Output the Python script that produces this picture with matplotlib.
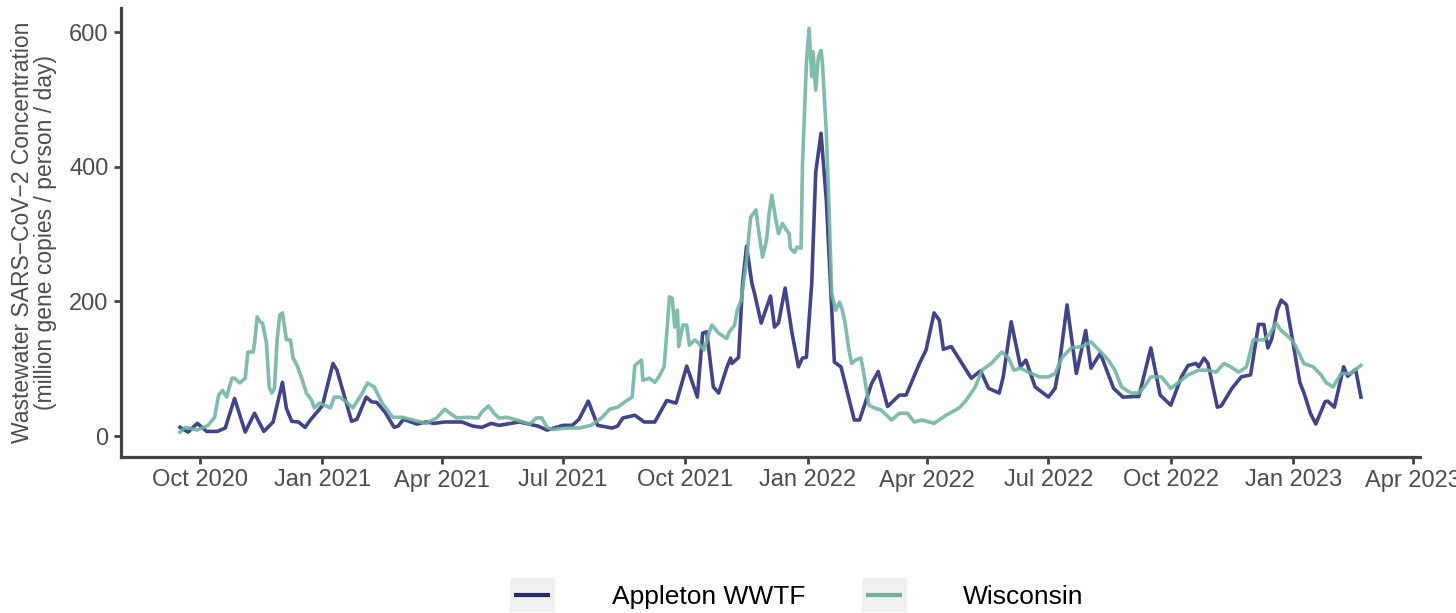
import numpy as np
import pandas as pd
import matplotlib
matplotlib.use("Agg")
import matplotlib.pyplot as plt
import matplotlib.dates as mdates
from matplotlib.legend_handler import HandlerBase
from matplotlib.patches import Rectangle
from matplotlib.lines import Line2D

plt.rcParams['font.family'] = ['Liberation Sans', 'DejaVu Sans']

# ---------------- data (days counted from the reference date) ----------------
reference_date = "2020-10-01"

appleton_day = [-15, -9, -2, 5, 13, 19, 26, 34, 41, 48, 55, 62, 65, 69, 74, 79, 83, 92, 100, 103,
                114, 118, 125, 129, 133, 139, 146, 149, 153, 163, 170, 176, 184, 197, 205, 212, 219, 225,
                240, 254, 261, 273, 280, 285, 292, 299, 310, 314, 318, 327, 334, 342, 351, 358, 366, 374,
                378, 381, 386, 390, 396, 399, 400, 405, 408, 411, 415, 417, 422, 429, 432, 435, 440, 445,
                450, 453, 456, 460, 463, 467, 471, 477, 482, 492, 496, 505, 510, 517, 526, 531, 541, 546,
                552, 556, 559, 565, 580, 587, 593, 601, 604, 610, 617, 621, 628, 638, 643, 646, 652, 659,
                666, 670, 677, 687, 694, 706, 715, 722, 730, 738, 743, 749, 751, 755, 758, 765, 768, 776,
                783, 790, 796, 800, 803, 806, 810, 813, 817, 827, 830, 835, 839, 846, 848, 853, 860, 863,
                869, 873]
appleton_val = [13, 6, 19, 7, 7, 12, 56, 6, 34, 7, 21, 80, 41, 22, 21, 13, 24, 45, 108, 98,
                22, 25, 58, 51, 50, 36, 13, 15, 25, 18, 21, 19, 21, 21, 15, 13, 19, 16,
                21, 15, 9, 16, 16, 25, 52, 16, 12, 15, 27, 31, 21, 21, 53, 49, 104, 58,
                153, 155, 73, 64, 101, 116, 108, 117, 227, 282, 227, 212, 168, 208, 162, 168, 220, 155,
                103, 116, 117, 227, 392, 450, 350, 110, 103, 24, 24, 78, 96, 44, 61, 61, 108, 128,
                183, 172, 129, 133, 86, 97, 71, 64, 88, 170, 103, 113, 73, 58, 71, 103, 195, 93,
                157, 101, 123, 71, 58, 59, 131, 61, 46, 88, 105, 108, 103, 116, 108, 43, 45, 71,
                88, 91, 166, 166, 131, 145, 187, 202, 195, 80, 65, 34, 18, 51, 52, 43, 103, 89,
                99, 58]

wisconsin_day = [-15, -11, -2, 6, 11, 14, 17, 20, 24, 26, 30, 34, 36, 40, 41, 43, 45, 47, 50, 52,
                 54, 56, 58, 60, 62, 65, 68, 70, 73, 77, 80, 84, 86, 90, 98, 101, 105, 110, 115, 122,
                 126, 131, 137, 145, 152, 160, 170, 178, 184, 188, 193, 201, 209, 212, 217, 221, 225, 231,
                 238, 248, 253, 257, 261, 265, 276, 285, 294, 302, 308, 314, 321, 325, 327, 332, 333, 338,
                 342, 345, 349, 351, 353, 355, 357, 359, 360, 363, 366, 368, 372, 375, 379, 383, 385, 390,
                 396, 398, 402, 404, 407, 411, 414, 418, 420, 423, 426, 428, 430, 433, 435, 438, 441, 443,
                 444, 447, 449, 452, 453, 456, 458, 460, 461, 463, 465, 467, 468, 471, 473, 475, 478, 481,
                 483, 485, 488, 490, 493, 497, 499, 503, 507, 512, 520, 526, 532, 537, 543, 552, 561, 571,
                 576, 583, 588, 595, 603, 608, 612, 617, 623, 631, 638, 643, 648, 655, 663, 670, 676, 683,
                 688, 693, 700, 706, 710, 715, 723, 730, 736, 743, 751, 758, 764, 770, 775, 781, 787, 792,
                 800, 805, 809, 813, 821, 824, 830, 837, 843, 847, 852, 858, 865, 873]
wisconsin_val = [6, 13, 9, 16, 28, 61, 68, 58, 86, 86, 79, 86, 125, 125, 138, 177, 170, 168, 138, 73,
                 64, 71, 143, 180, 183, 143, 143, 116, 105, 83, 64, 53, 42, 49, 42, 58, 58, 51, 42, 64,
                 79, 73, 49, 28, 28, 24, 19, 27, 40, 34, 27, 28, 27, 36, 45, 34, 27, 28,
                 24, 18, 27, 27, 13, 10, 12, 12, 16, 27, 40, 43, 53, 58, 105, 113, 83, 86,
                 80, 88, 103, 153, 207, 205, 162, 187, 133, 165, 165, 135, 143, 138, 128, 155, 165, 153,
                 145, 155, 165, 187, 202, 261, 325, 336, 306, 266, 291, 331, 358, 321, 301, 316, 306, 301,
                 279, 273, 281, 279, 400, 554, 606, 534, 571, 514, 563, 573, 556, 450, 340, 212, 187, 199,
                 187, 169, 128, 108, 113, 116, 95, 46, 42, 39, 24, 34, 34, 21, 24, 19, 31, 42,
                 53, 73, 98, 108, 125, 116, 98, 101, 95, 88, 88, 93, 116, 131, 133, 140, 128, 113,
                 98, 73, 64, 64, 73, 88, 88, 71, 80, 91, 98, 98, 95, 108, 103, 95, 103, 143,
                 143, 153, 168, 157, 143, 133, 108, 103, 91, 79, 73, 93, 93, 105]

series_names = ["Appleton WWTF", "Wisconsin"]
series_colors = ["#262a78", "#6db3a0"]

y_ticks = [0, 200, 400, 600]
y_label = "Wastewater SARS\u2212CoV\u22122 Concentration\n(million gene copies / person / day)"

# ---------------- build ----------------
ref = pd.Timestamp(reference_date)
app_dates = ref + pd.to_timedelta(appleton_day, unit="D")
wis_dates = ref + pd.to_timedelta(wisconsin_day, unit="D")

fig = plt.figure(figsize=(14.56, 6.13), dpi=100)
ax = fig.add_axes([121/1456, 1 - 457/613, (1420 - 121)/1456, (457 - 8)/613])

lw = 2.6
l1, = ax.plot(app_dates, appleton_val, color=series_colors[0], alpha=0.88, lw=lw,
              solid_joinstyle='round', label=series_names[0])
l2, = ax.plot(wis_dates, wisconsin_val, color=series_colors[1], alpha=0.88, lw=lw,
              solid_joinstyle='round', label=series_names[1])

# limits: ggplot-like 5% expansion
xmin = min(app_dates.min(), wis_dates.min())
xmax = max(app_dates.max(), wis_dates.max())
span = xmax - xmin
ax.set_xlim(xmin - span * 0.05, xmax + span * 0.05)
ax.set_ylim(-31, 636)

ax.xaxis.set_major_locator(mdates.MonthLocator(bymonth=[1, 4, 7, 10]))
ax.xaxis.set_major_formatter(mdates.DateFormatter("%b %Y"))
ax.set_yticks(y_ticks)

for s in ["top", "right"]:
    ax.spines[s].set_visible(False)
for s in ["left", "bottom"]:
    ax.spines[s].set_color("#444444")
    ax.spines[s].set_linewidth(2.3)
ax.tick_params(axis="both", colors="#444444", width=2.0, length=5, labelsize=17,
               labelcolor="#4d4d4d", pad=4)

fig.text(34/1456, 1 - 232/613, y_label, rotation=90, ha="center", va="center",
         multialignment="center", fontsize=16.5, color="#4d4d4d", linespacing=1.0)


class KeyHandler(HandlerBase):
    def create_artists(self, legend, orig_handle, xdescent, ydescent, width, height,
                       fontsize, trans):
        r = Rectangle((-xdescent, -ydescent), width, height, facecolor="#f0f0f0",
                      edgecolor="none", transform=trans)
        yc = -ydescent + height / 2
        ln = Line2D([-xdescent + width * 0.1, -xdescent + width * 0.9], [yc, yc],
                    color=orig_handle.get_color(), lw=3.0, solid_capstyle="butt",
                    transform=trans)
        return [r, ln]


leg = fig.legend(handles=[l1, l2], labels=series_names, loc="lower left",
                 bbox_to_anchor=(510/1456, 1/613), ncol=2, frameon=False, fontsize=19,
                 handler_map={Line2D: KeyHandler()}, handlelength=1.7, handleheight=1.6,
                 handletextpad=2.15, columnspacing=2.15, borderpad=0, borderaxespad=0)

fig.savefig("out.png", dpi=100)
